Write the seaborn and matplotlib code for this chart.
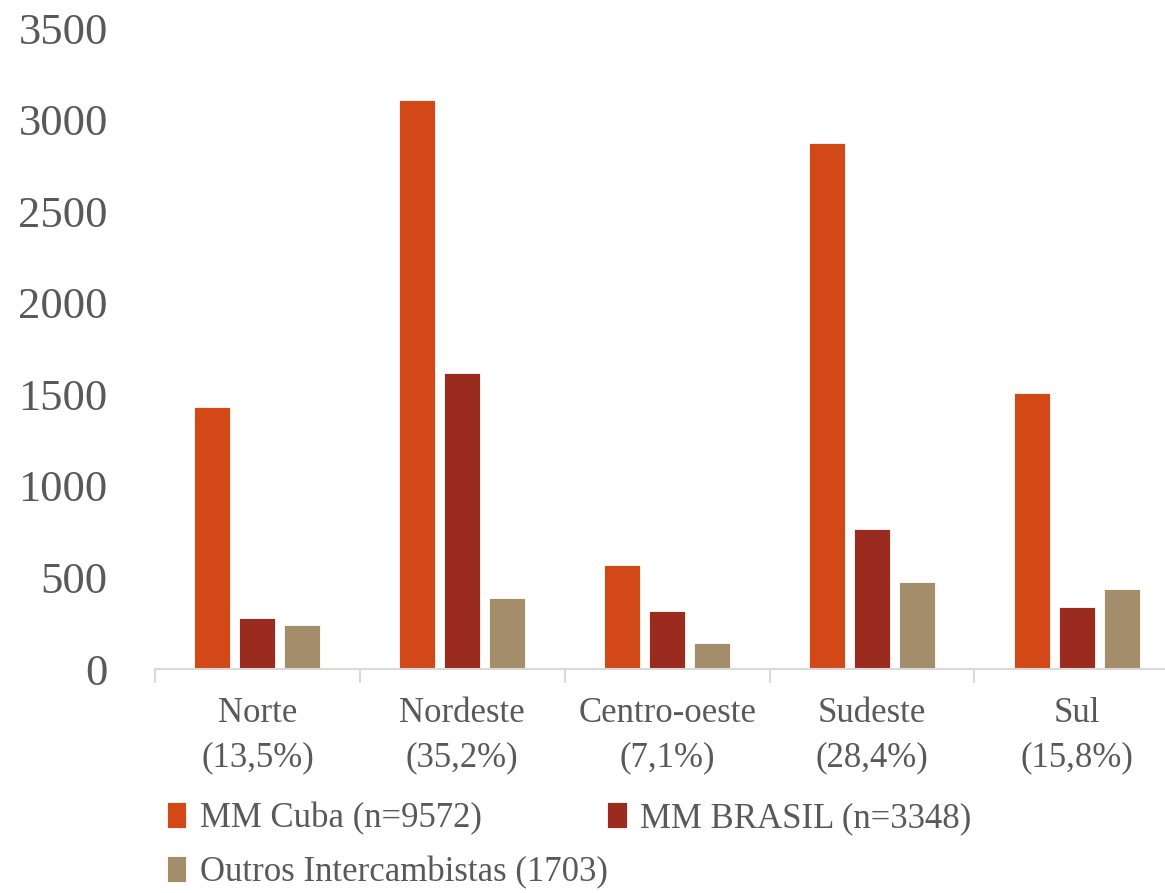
import pandas as pd
import seaborn as sns
import matplotlib.pyplot as plt
from matplotlib.ticker import FixedLocator

# Data
regions = ["Norte\n(13,5%)", "Nordeste\n(35,2%)", "Centro-oeste\n(7,1%)",
           "Sudeste\n(28,4%)", "Sul\n(15,8%)"]
series = ["MM Cuba (n=9572)", "MM BRASIL (n=3348)", "Outros Intercambistas (1703)"]
cuba = [1430, 3105, 568, 2875, 1505]
brasil = [278, 1615, 317, 765, 338]
outros = [240, 388, 142, 475, 438]
colors = ["#D24817", "#9B2A1F", "#A48D6A"]

# long-form table for seaborn
df = pd.DataFrame({
    "region": regions * 3,
    "group": [series[0]] * 5 + [series[1]] * 5 + [series[2]] * 5,
    "value": cuba + brasil + outros,
})

sns.set_style("white")
plt.rcParams["font.family"] = ["Liberation Serif", "DejaVu Serif"]
text_color = "#595959"

fig = plt.figure(figsize=(11.65, 8.93), dpi=100)
ax = fig.add_axes([0.133, 0.2508, 0.867, 0.7178])

sns.barplot(data=df, x="region", y="value", hue="group", hue_order=series,
            palette=colors, saturation=1, width=0.66, gap=0.2, ax=ax,
            legend=True, edgecolor="white", linewidth=0.6)

ax.set_ylim(0, 3500)
ax.set_xlim(-0.5, 4.43)
ax.set_yticks(range(0, 3501, 500))
ax.set_xlabel("")
ax.set_ylabel("")

# axis styling: only a light grey baseline with ticks between categories
for side in ["left", "top", "right"]:
    ax.spines[side].set_visible(False)
ax.spines["bottom"].set_color("#d9d9d9")
ax.spines["bottom"].set_linewidth(1.5)
ax.xaxis.set_minor_locator(FixedLocator([-0.5, 0.5, 1.5, 2.5, 3.5]))
ax.tick_params(axis="x", which="minor", length=10, width=1.5, color="#d9d9d9",
               direction="out", bottom=True)
ax.tick_params(axis="x", which="major", length=0, pad=20, labelsize=25,
               labelcolor=text_color)
ax.tick_params(axis="y", length=0, pad=34, labelsize=32, labelcolor=text_color)

# legend laid out row by row
handles, labels = ax.get_legend_handles_labels()
ax.get_legend().remove()
order = [0, 2, 1]
fig.legend([handles[i] for i in order], [labels[i] for i in order],
           loc="upper left", bbox_to_anchor=(0.143, 0.102), ncol=2,
           frameon=False, fontsize=25, labelcolor=text_color,
           handlelength=0.55, handleheight=0.75, handletextpad=0.4,
           columnspacing=0.0, labelspacing=0.6, borderaxespad=0,
           borderpad=0)

fig.canvas.draw()
for lbl in ax.get_xticklabels():
    lbl.set_linespacing(1.45)

fig.savefig("out.png", dpi=100)
